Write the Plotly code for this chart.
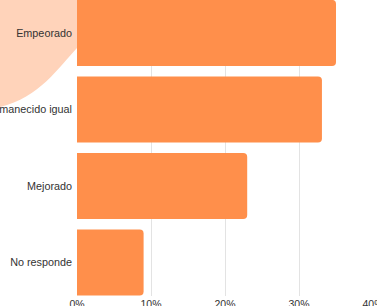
import plotly.graph_objects as go

categories = ["Empeorado", "Permanecido igual", "Mejorado", "No responde"]
values = [35.0, 33.1, 23.0, 9.0]
tick_vals = [0, 10, 20, 30, 40]
tick_text = ["0%", "10%", "20%", "30%", "40%"]

W, H = 377, 306
ML, MR, MT, MB = 77, 4, 0, 10
PW, PH = W - ML - MR, H - MT - MB

def px(x):
    return (x - ML) / PW

def py(y):
    return (H - MB - y) / PH

blob = (f"M {px(-5)},{py(-5)} L {px(77)},{py(-5)} L {px(77)},{py(48)} "
        f"C {px(58)},{py(68)} {px(38)},{py(100)} {px(-5)},{py(108)} Z")

fig = go.Figure(go.Bar(
    y=categories, x=values, orientation="h",
    marker=dict(color="#FF8F4B", line=dict(width=0)),
    width=0.865, hoverinfo="skip",
))
fig.update_layout(
    width=W, height=H,
    margin=dict(l=ML, r=MR, t=MT, b=MB, pad=0, autoexpand=False),
    paper_bgcolor="white", plot_bgcolor="white",
    barcornerradius=4,
    showlegend=False,
    font=dict(family="Liberation Sans, Arial, sans-serif", size=10, color="#333333"),
    shapes=[dict(type="path", path=blob, xref="paper", yref="paper",
                 fillcolor="#FFD3BA", line=dict(width=0), layer="below")],
    xaxis=dict(range=[0, 40], tickvals=tick_vals, ticktext=tick_text,
               showgrid=True, gridcolor="#E3E3E3", gridwidth=1,
               zeroline=False, showline=False, ticks="", automargin=False,
               ticklabeloverflow="allow",
               tickfont=dict(size=10.5, color="#333333"), fixedrange=True),
    yaxis=dict(categoryorder="array", categoryarray=categories,
               range=[3.438, -0.431], showgrid=False, zeroline=False,
               showline=False, ticks="", ticklabelstandoff=4, automargin=False,
               ticklabeloverflow="allow",
               tickfont=dict(size=10.8, color="#333333")),
)
fig.write_html("out.html", config={"displayModeBar": False, "staticPlot": True},
               post_script="document.body.style.margin='0';document.body.style.overflow='hidden';")
